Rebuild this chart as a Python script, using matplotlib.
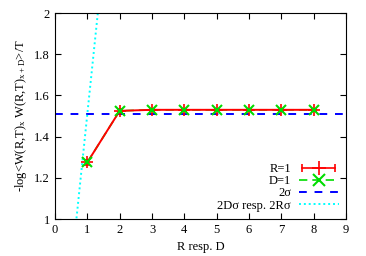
import numpy as np
import matplotlib
matplotlib.use("Agg")
import matplotlib.pyplot as plt
from matplotlib.lines import Line2D
from matplotlib.legend_handler import HandlerLine2D, HandlerTuple

# data
R = [1, 2, 3, 4, 5, 6, 7, 8]
val_R = [1.275, 1.525, 1.530, 1.530, 1.530, 1.530, 1.530, 1.530]
err_R = [0.012, 0.008, 0.006, 0.006, 0.006, 0.006, 0.006, 0.006]
D = [1, 2, 3, 4, 5, 6, 7, 8]
val_D = [1.275, 1.525, 1.530, 1.530, 1.530, 1.530, 1.530, 1.530]
two_sigma = 1.51
sigma = two_sigma / 2
x_line = [0, 9]

plt.rcParams['font.family'] = ['Liberation Serif', 'DejaVu Serif']
plt.rcParams['mathtext.default'] = 'regular'
plt.rcParams['font.size'] = 9

fig = plt.figure(figsize=(3.66, 2.56), dpi=100)
ax = fig.add_axes([55/366, 1 - 219/256, (346-55)/366, (219-13)/256])

# green dashed line underneath, red line over it, green crosses on top
ax.plot(D, val_D, color='#00dd00', ls=(0, (5, 3)), lw=1.2, zorder=2.5)
ax.errorbar(R, val_R, yerr=err_R, color='red', lw=1.4, marker='+', ms=9,
            mew=1.2, capsize=2, zorder=3)
ax.plot(D, val_D, color='#00dd00', lw=0, marker='x', ms=7, mew=1.5, zorder=4)
h2s, = ax.plot(x_line, [two_sigma, two_sigma], color='blue', ls=(0, (4, 4)), lw=1.4,
               zorder=2)
xs = np.array(x_line)
hc, = ax.plot(xs, 2 * sigma * xs, color='cyan', ls=(0, (1, 1.5)), lw=1.4, zorder=2)

ax.set_xlim(0, 9)
ax.set_ylim(1, 2)
ax.set_xticks(range(0, 10))
ax.set_yticks([1, 1.2, 1.4, 1.6, 1.8, 2])
ax.set_yticklabels(['1', '1.2', '1.4', '1.6', '1.8', '2'])
ax.tick_params(direction='in', top=True, right=True, length=4, width=0.8)
ax.set_xlabel('R resp. D')
ax.set_ylabel(r'-log<W(R,T)$_x$ W(R,T)$_{x+D}$>/T')

# legend sample for R=1: line with end caps and a + in the middle
cap_line = Line2D([], [], color='red', lw=1.2, marker='|', ms=6, mew=1.2)
plus_line = Line2D([], [], color='red', lw=0, marker='+', ms=10, mew=1.2)
hD_leg = Line2D([], [], color='#00dd00', ls=(0, (5, 3)), lw=1.2, marker='x', ms=9, mew=1.5)
ax.legend([(cap_line, plus_line), hD_leg, h2s, hc],
          ['R=1', 'D=1', '2σ', '2Dσ resp. 2Rσ'],
          handler_map={cap_line: HandlerLine2D(numpoints=2),
                       plus_line: HandlerLine2D(numpoints=1),
                       tuple: HandlerTuple(ndivide=1, pad=0)},
          loc='lower right', frameon=False, markerfirst=False, handlelength=3.2,
          labelspacing=0.0, borderaxespad=0.2, handletextpad=0.6)

fig.savefig('out.png', dpi=100)
